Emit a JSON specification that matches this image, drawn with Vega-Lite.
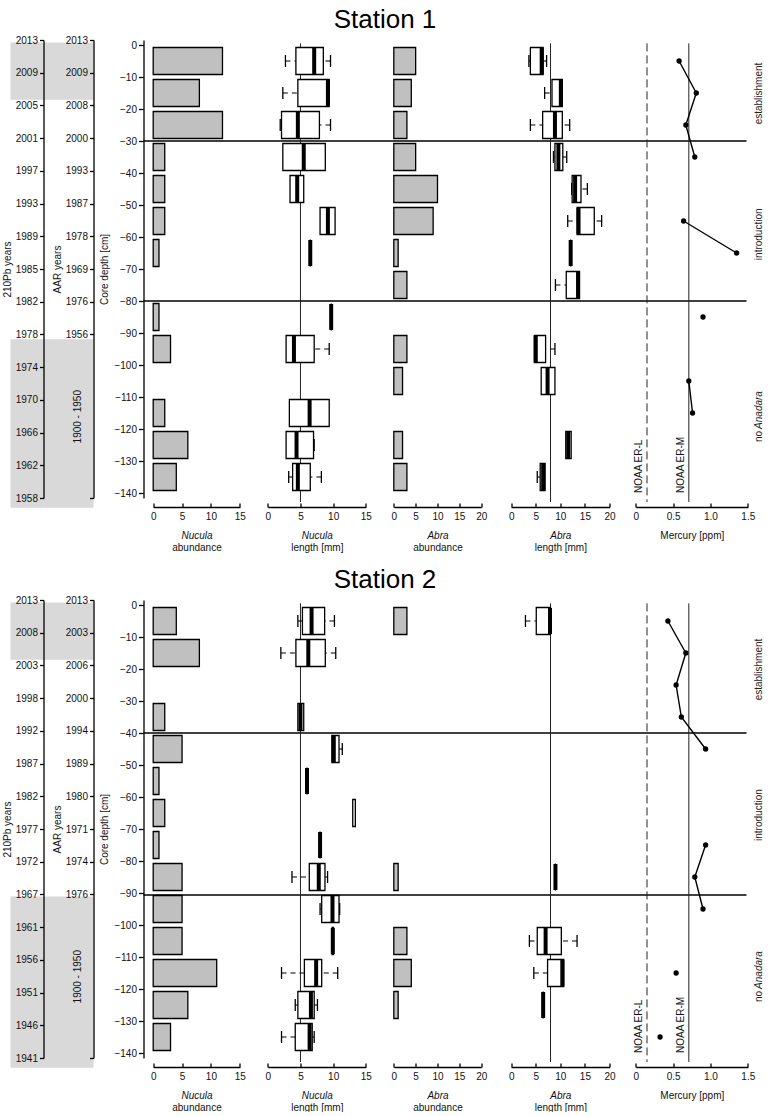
{
  "$schema": "https://vega.github.io/schema/vega-lite/v6.json",
  "padding": {"left": 1.5, "top": 6, "right": 0, "bottom": 0},
  "config": {
    "font": "Liberation Sans",
    "view": {"stroke": null},
    "axis": {
      "labelFont": "Liberation Sans", "labelFontSize": 10, "labelColor": "#111",
      "titleFont": "Liberation Sans", "titleFontSize": 10, "titleFontWeight": "normal", "titleColor": "#111",
      "domainColor": "black", "domainWidth": 1.3, "tickColor": "black", "tickWidth": 1.3,
      "grid": false, "labelFlush": false, "labelOverlap": false, "labelBound": false
    },
    "title": {"font": "Liberation Sans", "fontSize": 26, "fontWeight": "normal", "color": "black", "anchor": "middle", "frame": "group", "offset": 7, "dx": -60}
  },
  "datasets": {
    "samples": [
      {"st":1,"taxon":"Nucula","d":-5,"n":12,"min":2.7,"q1":4.3,"med":7.1,"q3":8.5,"max":9.6},
      {"st":1,"taxon":"Nucula","d":-15,"n":8,"min":2.3,"q1":4.6,"med":9.2,"q3":9.4,"max":9.4},
      {"st":1,"taxon":"Nucula","d":-25,"n":12,"min":1.9,"q1":2.1,"med":4.6,"q3":7.9,"max":9.6},
      {"st":1,"taxon":"Nucula","d":-35,"n":2,"min":2.3,"q1":2.3,"med":5.5,"q3":8.8,"max":8.8},
      {"st":1,"taxon":"Nucula","d":-45,"n":2,"min":3.4,"q1":3.4,"med":4.5,"q3":5.5,"max":5.5},
      {"st":1,"taxon":"Nucula","d":-55,"n":2,"min":8.0,"q1":8.0,"med":9.2,"q3":10.3,"max":10.3},
      {"st":1,"taxon":"Nucula","d":-65,"n":1,"min":6.5,"q1":6.5,"med":6.5,"q3":6.5,"max":6.5},
      {"st":1,"taxon":"Nucula","d":-85,"n":1,"min":9.7,"q1":9.7,"med":9.7,"q3":9.7,"max":9.7},
      {"st":1,"taxon":"Nucula","d":-95,"n":3,"min":2.8,"q1":2.8,"med":4.0,"q3":7.1,"max":9.4},
      {"st":1,"taxon":"Nucula","d":-115,"n":2,"min":3.3,"q1":3.3,"med":6.4,"q3":9.4,"max":9.4},
      {"st":1,"taxon":"Nucula","d":-125,"n":6,"min":2.8,"q1":2.8,"med":4.4,"q3":7.0,"max":7.1},
      {"st":1,"taxon":"Nucula","d":-135,"n":4,"min":3.2,"q1":3.8,"med":4.6,"q3":6.5,"max":8.2},
      {"st":1,"taxon":"Abra","d":-5,"n":5,"min":3.6,"q1":3.9,"med":6.2,"q3":6.5,"max":7.2},
      {"st":1,"taxon":"Abra","d":-15,"n":4,"min":6.8,"q1":8.3,"med":10.1,"q3":10.4,"max":10.4},
      {"st":1,"taxon":"Abra","d":-25,"n":3,"min":3.9,"q1":6.4,"med":8.9,"q3":10.4,"max":11.9},
      {"st":1,"taxon":"Abra","d":-35,"n":5,"min":8.6,"q1":8.9,"med":9.6,"q3":10.5,"max":11.3},
      {"st":1,"taxon":"Abra","d":-45,"n":10,"min":12.3,"q1":12.4,"med":13.0,"q3":14.2,"max":15.5},
      {"st":1,"taxon":"Abra","d":-55,"n":9,"min":11.5,"q1":13.4,"med":13.7,"q3":16.9,"max":18.4},
      {"st":1,"taxon":"Abra","d":-65,"n":1,"min":12.1,"q1":12.1,"med":12.1,"q3":12.1,"max":12.1},
      {"st":1,"taxon":"Abra","d":-75,"n":3,"min":9.0,"q1":11.2,"med":13.6,"q3":13.9,"max":13.9},
      {"st":1,"taxon":"Abra","d":-95,"n":3,"min":4.7,"q1":4.7,"med":5.0,"q3":7.0,"max":8.9},
      {"st":1,"taxon":"Abra","d":-105,"n":2,"min":6.1,"q1":6.1,"med":7.4,"q3":8.9,"max":8.9},
      {"st":1,"taxon":"Abra","d":-125,"n":2,"min":11.1,"q1":11.1,"med":11.6,"q3":12.2,"max":12.2},
      {"st":1,"taxon":"Abra","d":-135,"n":3,"min":5.3,"q1":5.9,"med":6.5,"q3":6.9,"max":6.9},
      {"st":2,"taxon":"Nucula","d":-5,"n":4,"min":4.6,"q1":5.3,"med":6.7,"q3":8.7,"max":10.2},
      {"st":2,"taxon":"Nucula","d":-15,"n":8,"min":2.0,"q1":4.3,"med":6.2,"q3":8.8,"max":10.4},
      {"st":2,"taxon":"Nucula","d":-35,"n":2,"min":4.6,"q1":4.6,"med":5.0,"q3":5.5,"max":5.5},
      {"st":2,"taxon":"Nucula","d":-45,"n":5,"min":9.8,"q1":9.8,"med":10.1,"q3":10.9,"max":11.4},
      {"st":2,"taxon":"Nucula","d":-55,"n":1,"min":6.0,"q1":6.0,"med":6.0,"q3":6.0,"max":6.0},
      {"st":2,"taxon":"Nucula","d":-65,"n":2,"min":13.0,"q1":13.0,"med":null,"q3":13.4,"max":13.4},
      {"st":2,"taxon":"Nucula","d":-75,"n":1,"min":8.0,"q1":8.0,"med":8.0,"q3":8.0,"max":8.0},
      {"st":2,"taxon":"Nucula","d":-85,"n":5,"min":3.7,"q1":6.35,"med":7.8,"q3":8.75,"max":9.15},
      {"st":2,"taxon":"Nucula","d":-95,"n":5,"min":8.0,"q1":8.25,"med":9.9,"q3":10.9,"max":11.0},
      {"st":2,"taxon":"Nucula","d":-105,"n":5,"min":9.85,"q1":9.85,"med":9.95,"q3":10.05,"max":10.05},
      {"st":2,"taxon":"Nucula","d":-115,"n":11,"min":2.1,"q1":5.6,"med":7.4,"q3":8.25,"max":10.7},
      {"st":2,"taxon":"Nucula","d":-125,"n":6,"min":4.2,"q1":4.6,"med":6.6,"q3":7.1,"max":7.6},
      {"st":2,"taxon":"Nucula","d":-135,"n":3,"min":2.1,"q1":4.2,"med":6.4,"q3":6.8,"max":7.1},
      {"st":2,"taxon":"Abra","d":-5,"n":3,"min":2.9,"q1":5.1,"med":7.9,"q3":8.0,"max":8.0},
      {"st":2,"taxon":"Abra","d":-85,"n":1,"min":9.0,"q1":9.0,"med":9.0,"q3":9.0,"max":9.0},
      {"st":2,"taxon":"Abra","d":-105,"n":3,"min":3.7,"q1":5.3,"med":7.0,"q3":10.2,"max":13.4},
      {"st":2,"taxon":"Abra","d":-115,"n":4,"min":4.6,"q1":7.4,"med":10.4,"q3":10.7,"max":10.7},
      {"st":2,"taxon":"Abra","d":-125,"n":1,"min":6.5,"q1":6.5,"med":6.5,"q3":6.5,"max":6.5}
    ],
    "hg": [
      {"st":1,"d":-5,"hg":0.58},{"st":1,"d":-15,"hg":0.81},{"st":1,"d":-25,"hg":0.67},{"st":1,"d":-35,"hg":0.79},
      {"st":1,"d":-45,"hg":null},{"st":1,"d":-55,"hg":0.64},{"st":1,"d":-65,"hg":1.35},{"st":1,"d":-75,"hg":null},
      {"st":1,"d":-85,"hg":0.9},{"st":1,"d":-95,"hg":null},{"st":1,"d":-105,"hg":0.71},{"st":1,"d":-115,"hg":0.76},
      {"st":1,"d":-125,"hg":null},{"st":1,"d":-135,"hg":null},
      {"st":2,"d":-5,"hg":0.43},{"st":2,"d":-15,"hg":0.67},{"st":2,"d":-25,"hg":0.54},{"st":2,"d":-35,"hg":0.61},
      {"st":2,"d":-45,"hg":0.935},{"st":2,"d":-55,"hg":null},{"st":2,"d":-65,"hg":null},{"st":2,"d":-75,"hg":0.935},
      {"st":2,"d":-85,"hg":0.79},{"st":2,"d":-95,"hg":0.9},{"st":2,"d":-105,"hg":null},{"st":2,"d":-115,"hg":0.54},
      {"st":2,"d":-125,"hg":null},{"st":2,"d":-135,"hg":0.325}
    ],
    "phase": [{"st":1,"depth":-30},{"st":1,"depth":-80},{"st":2,"depth":-40},{"st":2,"depth":-90.6}],
    "shade": [
      {"st":1,"top":-0.8,"bottom":-18.3},{"st":1,"top":-91.5,"bottom":-143},
      {"st":2,"top":-0.8,"bottom":-18.3},{"st":2,"top":-90.6,"bottom":-143}
    ],
    "ref": [
      {"panel":"NL","v":5,"label":"","dashed":false},
      {"panel":"AL","v":8,"label":"","dashed":false},
      {"panel":"HG","v":0.15,"label":"NOAA ER-L","dashed":true},
      {"panel":"HG","v":0.71,"label":"NOAA ER-M","dashed":false}
    ]
  },
  "columns": 2,
  "bounds": "flush",
  "spacing": {"row": 102, "column": 50},
  "concat": [
    {
      "width": 83, "height": 458,
      "data": {"name": "shade"},
      "transform": [{"filter": "datum.st == 1"}],
      "resolve": {"axis": {"y": "independent"}},
      "layer": [
        {"mark": {"type": "rect", "color": "#d9d9d9", "opacity": 1},
         "encoding": {
           "x": {"datum": 0, "type": "quantitative", "scale": {"domain": [0, 1], "nice": false, "zero": false}, "axis": null},
           "x2": {"datum": 1},
           "y": {"field": "top", "type": "quantitative", "scale": {"domain": [-140, 0], "nice": false, "zero": false},
           "axis": {"orient": "left", "offset": -33, "zindex": 1, "values": [0,-10,-20,-30,-40,-50,-60,-70,-80,-90,-100,-110,-120,-130,-140],
             "labelExpr": "['2013','2009','2005','2001','1997','1993','1989','1985','1982','1978','1974','1970','1966','1962','1958'][round(-datum.value/10)]",
             "tickSize": 4, "labelPadding": 2, "title": "210Pb years", "titlePadding": 3}},
           "y2": {"field": "bottom"}}},
        {"mark": {"type": "rect", "opacity": 0},
         "encoding": {
           "x": {"datum": 0, "type": "quantitative", "scale": {"domain": [0, 1], "nice": false, "zero": false}, "axis": null},
           "x2": {"datum": 1},
           "y": {"field": "top", "type": "quantitative", "scale": {"domain": [-140, 0], "nice": false, "zero": false},
           "axis": {"orient": "left", "offset": -83, "zindex": 1, "values": [0,-10,-20,-30,-40,-50,-60,-70,-80,-90,-140],
             "labelExpr": "['2013','2009','2008','2000','1993','1987','1978','1969','1976','1956','','','','',''][round(-datum.value/10)]",
             "tickSize": 4, "labelPadding": 2, "title": "AAR years", "titlePadding": 3}},
           "y2": {"field": "bottom"}}},
        {"mark": {"type": "rect", "opacity": 0},
         "encoding": {
           "x": {"datum": 0, "type": "quantitative", "scale": {"domain": [0, 1], "nice": false, "zero": false}, "axis": null},
           "x2": {"datum": 1},
           "y": {"field": "top", "type": "quantitative", "scale": {"domain": [-140, 0], "nice": false, "zero": false},
           "axis": {"orient": "left", "offset": -72, "zindex": 1, "values": [-115], "labelExpr": "'1900 - 1950'",
             "labelAngle": 270, "labelAlign": "center", "labelBaseline": "bottom", "labelPadding": 0, "domain": false, "ticks": false, "title": null}},
           "y2": {"field": "bottom"}}}
      ]
    },
    {
      "title": {"text": "Station 1"},
      "width": 603, "height": 458,
      "resolve": {"scale": {"x": "independent"}, "axis": {"y": "independent"}},
      "layer": [
        {"data": {"name": "phase"}, "transform": [{"filter": "datum.st == 1"}],
         "mark": {"type": "rule", "color": "black", "strokeWidth": 1.5},
         "encoding": {"y": {"field": "depth", "type": "quantitative", "scale": {"domain": [-140, 0], "nice": false, "zero": false},
           "axis": {"orient": "left", "title": "Core depth [cm]", "values": [0,-10,-20,-30,-40,-50,-60,-70,-80,-90,-100,-110,-120,-130,-140], "tickSize": 5, "labelPadding": 2, "titlePadding": 4}}}},
        {"data": {"name": "samples"}, "transform": [{"filter": "datum.st == 1 && datum.taxon == 'Nucula'"}],
         "mark": {"type": "bar", "orient": "horizontal", "size": 27, "fill": "#c0c0c0", "stroke": "black", "strokeWidth": 1.3, "opacity": 1},
         "encoding": {
           "x": {"field": "n", "type": "quantitative", "scale": {"domain": [0, 15], "range": [9.7, 96.3], "nice": false, "zero": false},
             "axis": {"orient": "bottom", "offset": 9, "values": [0,5,10,15], "tickSize": -4, "labelPadding": 8, "title": "abundance", "titleY": 40, "titleBaseline": "middle"}},
           "y": {"field": "d", "type": "quantitative", "scale": {"domain": [-140, 0], "nice": false, "zero": false}, "axis": null}}},
        {"data": {"name": "samples"}, "transform": [{"filter": "datum.st == 1 && datum.taxon == 'Nucula'"}],
         "mark": {"type": "point", "opacity": 0},
         "encoding": {"x": {"field": "n", "type": "quantitative", "scale": {"domain": [0, 15], "range": [9.7, 96.3], "nice": false, "zero": false},
           "axis": {"orient": "bottom", "offset": 9, "domain": false, "ticks": false, "labels": false, "title": "Nucula", "titleFontStyle": "italic", "titleY": 28, "titleBaseline": "middle"}},
           "y": {"field": "d", "type": "quantitative", "scale": {"domain": [-140, 0], "nice": false, "zero": false}, "axis": null}}},
        {"data": {"name": "ref"}, "transform": [{"filter": "datum.panel == 'NL'"}],
         "mark": {"type": "rule", "color": "#222", "strokeWidth": 1},
         "encoding": {
           "x": {"field": "v", "type": "quantitative", "scale": {"domain": [0, 15], "range": [124.3, 222.3], "nice": false, "zero": false},
             "axis": {"orient": "bottom", "offset": 9, "domain": false, "ticks": false, "labels": false, "title": "Nucula", "titleFontStyle": "italic", "titleY": 28, "titleBaseline": "middle"}},
           "y": {"datum": 0.5, "type": "quantitative", "scale": {"domain": [-140, 0], "nice": false, "zero": false}, "axis": null},
           "y2": {"datum": -142.8}}},
        {"data": {"name": "samples"}, "transform": [{"filter": "datum.st == 1 && datum.taxon == 'Nucula'"}],
         "encoding": {"y": {"field": "d", "type": "quantitative", "scale": {"domain": [-140, 0], "nice": false, "zero": false}, "axis": null}},
         "layer": [
           {"transform": [{"filter": "datum.min < datum.q1"}], "mark": {"type": "rule", "color": "black", "strokeWidth": 1.1, "strokeDash": [5, 4]},
            "encoding": {"x": {"field": "min", "type": "quantitative", "scale": {"domain": [0, 15], "range": [124.3, 222.3], "nice": false, "zero": false},
              "axis": {"orient": "bottom", "offset": 9, "values": [0,5,10,15], "tickSize": -4, "labelPadding": 8, "title": "length [mm]", "titleY": 40, "titleBaseline": "middle"}}, "x2": {"field": "q1"}}},
           {"transform": [{"filter": "datum.max > datum.q3"}], "mark": {"type": "rule", "color": "black", "strokeWidth": 1.1, "strokeDash": [5, 4]},
            "encoding": {"x": {"field": "max", "type": "quantitative", "scale": {"domain": [0, 15], "range": [124.3, 222.3], "nice": false, "zero": false},
              "axis": {"orient": "bottom", "offset": 9, "values": [0,5,10,15], "tickSize": -4, "labelPadding": 8, "title": "length [mm]", "titleY": 40, "titleBaseline": "middle"}}, "x2": {"field": "q3"}}},
           {"transform": [{"filter": "datum.min < datum.q1"}], "mark": {"type": "tick", "orient": "vertical", "size": 12, "thickness": 1.3, "color": "black", "opacity": 1},
            "encoding": {"x": {"field": "min", "type": "quantitative", "scale": {"domain": [0, 15], "range": [124.3, 222.3], "nice": false, "zero": false},
              "axis": {"orient": "bottom", "offset": 9, "values": [0,5,10,15], "tickSize": -4, "labelPadding": 8, "title": "length [mm]", "titleY": 40, "titleBaseline": "middle"}}}},
           {"transform": [{"filter": "datum.max > datum.q3"}], "mark": {"type": "tick", "orient": "vertical", "size": 12, "thickness": 1.3, "color": "black", "opacity": 1},
            "encoding": {"x": {"field": "max", "type": "quantitative", "scale": {"domain": [0, 15], "range": [124.3, 222.3], "nice": false, "zero": false},
              "axis": {"orient": "bottom", "offset": 9, "values": [0,5,10,15], "tickSize": -4, "labelPadding": 8, "title": "length [mm]", "titleY": 40, "titleBaseline": "middle"}}}},
           {"mark": {"type": "bar", "orient": "horizontal", "size": 27, "fill": "white", "stroke": "black", "strokeWidth": 1.3, "opacity": 1},
            "encoding": {"x": {"field": "q1", "type": "quantitative", "scale": {"domain": [0, 15], "range": [124.3, 222.3], "nice": false, "zero": false},
              "axis": {"orient": "bottom", "offset": 9, "values": [0,5,10,15], "tickSize": -4, "labelPadding": 8, "title": "length [mm]", "titleY": 40, "titleBaseline": "middle"}}, "x2": {"field": "q3"}}},
           {"transform": [{"filter": "isValid(datum.med)"}], "mark": {"type": "tick", "orient": "vertical", "size": 26, "thickness": 4, "color": "black", "opacity": 1},
            "encoding": {"x": {"field": "med", "type": "quantitative", "scale": {"domain": [0, 15], "range": [124.3, 222.3], "nice": false, "zero": false},
              "axis": {"orient": "bottom", "offset": 9, "values": [0,5,10,15], "tickSize": -4, "labelPadding": 8, "title": "length [mm]", "titleY": 40, "titleBaseline": "middle"}}}}
         ]},
        {"data": {"name": "samples"}, "transform": [{"filter": "datum.st == 1 && datum.taxon == 'Abra'"}],
         "mark": {"type": "bar", "orient": "horizontal", "size": 27, "fill": "#c0c0c0", "stroke": "black", "strokeWidth": 1.3, "opacity": 1},
         "encoding": {
           "x": {"field": "n", "type": "quantitative", "scale": {"domain": [0, 20], "range": [250.3, 337.7], "nice": false, "zero": false},
             "axis": {"orient": "bottom", "offset": 9, "values": [0,5,10,15,20], "tickSize": -4, "labelPadding": 8, "title": "abundance", "titleY": 40, "titleBaseline": "middle"}},
           "y": {"field": "d", "type": "quantitative", "scale": {"domain": [-140, 0], "nice": false, "zero": false}, "axis": null}}},
        {"data": {"name": "samples"}, "transform": [{"filter": "datum.st == 1 && datum.taxon == 'Abra'"}],
         "mark": {"type": "point", "opacity": 0},
         "encoding": {"x": {"field": "n", "type": "quantitative", "scale": {"domain": [0, 20], "range": [250.3, 337.7], "nice": false, "zero": false},
           "axis": {"orient": "bottom", "offset": 9, "domain": false, "ticks": false, "labels": false, "title": "Abra", "titleFontStyle": "italic", "titleY": 28, "titleBaseline": "middle"}},
           "y": {"field": "d", "type": "quantitative", "scale": {"domain": [-140, 0], "nice": false, "zero": false}, "axis": null}}},
        {"data": {"name": "ref"}, "transform": [{"filter": "datum.panel == 'AL'"}],
         "mark": {"type": "rule", "color": "#222", "strokeWidth": 1},
         "encoding": {
           "x": {"field": "v", "type": "quantitative", "scale": {"domain": [0, 20], "range": [367.7, 466], "nice": false, "zero": false},
             "axis": {"orient": "bottom", "offset": 9, "domain": false, "ticks": false, "labels": false, "title": "Abra", "titleFontStyle": "italic", "titleY": 28, "titleBaseline": "middle"}},
           "y": {"datum": 0.5, "type": "quantitative", "scale": {"domain": [-140, 0], "nice": false, "zero": false}, "axis": null},
           "y2": {"datum": -142.8}}},
        {"data": {"name": "samples"}, "transform": [{"filter": "datum.st == 1 && datum.taxon == 'Abra'"}],
         "encoding": {"y": {"field": "d", "type": "quantitative", "scale": {"domain": [-140, 0], "nice": false, "zero": false}, "axis": null}},
         "layer": [
           {"transform": [{"filter": "datum.min < datum.q1"}], "mark": {"type": "rule", "color": "black", "strokeWidth": 1.1, "strokeDash": [5, 4]},
            "encoding": {"x": {"field": "min", "type": "quantitative", "scale": {"domain": [0, 20], "range": [367.7, 466], "nice": false, "zero": false},
              "axis": {"orient": "bottom", "offset": 9, "values": [0,5,10,15,20], "tickSize": -4, "labelPadding": 8, "title": "length [mm]", "titleY": 40, "titleBaseline": "middle"}}, "x2": {"field": "q1"}}},
           {"transform": [{"filter": "datum.max > datum.q3"}], "mark": {"type": "rule", "color": "black", "strokeWidth": 1.1, "strokeDash": [5, 4]},
            "encoding": {"x": {"field": "max", "type": "quantitative", "scale": {"domain": [0, 20], "range": [367.7, 466], "nice": false, "zero": false},
              "axis": {"orient": "bottom", "offset": 9, "values": [0,5,10,15,20], "tickSize": -4, "labelPadding": 8, "title": "length [mm]", "titleY": 40, "titleBaseline": "middle"}}, "x2": {"field": "q3"}}},
           {"transform": [{"filter": "datum.min < datum.q1"}], "mark": {"type": "tick", "orient": "vertical", "size": 12, "thickness": 1.3, "color": "black", "opacity": 1},
            "encoding": {"x": {"field": "min", "type": "quantitative", "scale": {"domain": [0, 20], "range": [367.7, 466], "nice": false, "zero": false},
              "axis": {"orient": "bottom", "offset": 9, "values": [0,5,10,15,20], "tickSize": -4, "labelPadding": 8, "title": "length [mm]", "titleY": 40, "titleBaseline": "middle"}}}},
           {"transform": [{"filter": "datum.max > datum.q3"}], "mark": {"type": "tick", "orient": "vertical", "size": 12, "thickness": 1.3, "color": "black", "opacity": 1},
            "encoding": {"x": {"field": "max", "type": "quantitative", "scale": {"domain": [0, 20], "range": [367.7, 466], "nice": false, "zero": false},
              "axis": {"orient": "bottom", "offset": 9, "values": [0,5,10,15,20], "tickSize": -4, "labelPadding": 8, "title": "length [mm]", "titleY": 40, "titleBaseline": "middle"}}}},
           {"mark": {"type": "bar", "orient": "horizontal", "size": 27, "fill": "white", "stroke": "black", "strokeWidth": 1.3, "opacity": 1},
            "encoding": {"x": {"field": "q1", "type": "quantitative", "scale": {"domain": [0, 20], "range": [367.7, 466], "nice": false, "zero": false},
              "axis": {"orient": "bottom", "offset": 9, "values": [0,5,10,15,20], "tickSize": -4, "labelPadding": 8, "title": "length [mm]", "titleY": 40, "titleBaseline": "middle"}}, "x2": {"field": "q3"}}},
           {"transform": [{"filter": "isValid(datum.med)"}], "mark": {"type": "tick", "orient": "vertical", "size": 26, "thickness": 4, "color": "black", "opacity": 1},
            "encoding": {"x": {"field": "med", "type": "quantitative", "scale": {"domain": [0, 20], "range": [367.7, 466], "nice": false, "zero": false},
              "axis": {"orient": "bottom", "offset": 9, "values": [0,5,10,15,20], "tickSize": -4, "labelPadding": 8, "title": "length [mm]", "titleY": 40, "titleBaseline": "middle"}}}}
         ]},
        {"data": {"name": "ref"}, "transform": [{"filter": "datum.panel == 'HG' && datum.dashed"}],
         "mark": {"type": "rule", "color": "#222", "strokeWidth": 1, "strokeDash": [8, 4]},
         "encoding": {
           "x": {"field": "v", "type": "quantitative", "scale": {"domain": [0, 1.5], "range": [492.3, 604.3], "nice": false, "zero": false}, "axis": null},
           "y": {"datum": 0.5, "type": "quantitative", "scale": {"domain": [-140, 0], "nice": false, "zero": false}, "axis": null},
           "y2": {"datum": -142.8}}},
        {"data": {"name": "ref"}, "transform": [{"filter": "datum.panel == 'HG' && !datum.dashed"}],
         "mark": {"type": "rule", "color": "#222", "strokeWidth": 1},
         "encoding": {
           "x": {"field": "v", "type": "quantitative", "scale": {"domain": [0, 1.5], "range": [492.3, 604.3], "nice": false, "zero": false}, "axis": null},
           "y": {"datum": 0.5, "type": "quantitative", "scale": {"domain": [-140, 0], "nice": false, "zero": false}, "axis": null},
           "y2": {"datum": -142.8}}},
        {"data": {"name": "ref"}, "transform": [{"filter": "datum.panel == 'HG'"}],
         "mark": {"type": "text", "angle": 270, "align": "left", "baseline": "bottom", "dy": -3, "fontSize": 10, "color": "#111"},
         "encoding": {
           "x": {"field": "v", "type": "quantitative", "scale": {"domain": [0, 1.5], "range": [492.3, 604.3], "nice": false, "zero": false}, "axis": null},
           "y": {"datum": -140, "type": "quantitative", "scale": {"domain": [-140, 0], "nice": false, "zero": false}, "axis": null},
           "text": {"field": "label"}}},
        {"data": {"name": "hg"}, "transform": [{"filter": "datum.st == 1"}],
         "layer": [
           {"mark": {"type": "line", "color": "black", "strokeWidth": 1.4, "invalid": "break-paths-show-domains"},
            "encoding": {
              "x": {"field": "hg", "type": "quantitative", "scale": {"domain": [0, 1.5], "range": [492.3, 604.3], "nice": false, "zero": false},
                "axis": {"orient": "bottom", "offset": 9, "values": [0,0.5,1,1.5], "labelExpr": "datum.value == 0 ? '0' : format(datum.value, '.1f')", "tickSize": -4, "labelPadding": 8, "title": "Mercury [ppm]", "titleY": 28, "titleBaseline": "middle"}},
              "y": {"field": "d", "type": "quantitative", "scale": {"domain": [-140, 0], "nice": false, "zero": false},
                "axis": {"orient": "right", "values": [-15, -59, -113.9, -122.2], "domain": false, "ticks": false, "labelPadding": 7,
                  "labelAngle": 270, "labelAlign": "center", "labelBaseline": "top", "labelColor": "#222", "title": null,
                  "labelExpr": "datum.value > -40 ? 'establishment' : datum.value > -100 ? 'introduction' : datum.value > -118 ? 'Anadara' : 'no'",
                  "labelFontStyle": {"condition": {"test": "datum.value < -100 && datum.value > -118", "value": "italic"}, "value": "normal"}}},
              "order": {"field": "d", "type": "quantitative", "sort": "descending"}}},
           {"transform": [{"filter": "isValid(datum.hg)"}],
            "mark": {"type": "point", "filled": true, "size": 28, "color": "black", "opacity": 1},
            "encoding": {
              "x": {"field": "hg", "type": "quantitative", "scale": {"domain": [0, 1.5], "range": [492.3, 604.3], "nice": false, "zero": false},
                "axis": {"orient": "bottom", "offset": 9, "values": [0,0.5,1,1.5], "labelExpr": "datum.value == 0 ? '0' : format(datum.value, '.1f')", "tickSize": -4, "labelPadding": 8, "title": "Mercury [ppm]", "titleY": 28, "titleBaseline": "middle"}},
              "y": {"field": "d", "type": "quantitative", "scale": {"domain": [-140, 0], "nice": false, "zero": false},
                "axis": {"orient": "right", "values": [-15, -59, -113.9, -122.2], "domain": false, "ticks": false, "labelPadding": 7,
                  "labelAngle": 270, "labelAlign": "center", "labelBaseline": "top", "labelColor": "#222", "title": null,
                  "labelExpr": "datum.value > -40 ? 'establishment' : datum.value > -100 ? 'introduction' : datum.value > -118 ? 'Anadara' : 'no'",
                  "labelFontStyle": {"condition": {"test": "datum.value < -100 && datum.value > -118", "value": "italic"}, "value": "normal"}}}}}
         ]}
      ]
    },
    {
      "width": 83, "height": 458,
      "data": {"name": "shade"},
      "transform": [{"filter": "datum.st == 2"}],
      "resolve": {"axis": {"y": "independent"}},
      "layer": [
        {"mark": {"type": "rect", "color": "#d9d9d9", "opacity": 1},
         "encoding": {
           "x": {"datum": 0, "type": "quantitative", "scale": {"domain": [0, 1], "nice": false, "zero": false}, "axis": null},
           "x2": {"datum": 1},
           "y": {"field": "top", "type": "quantitative", "scale": {"domain": [-140, 0], "nice": false, "zero": false},
           "axis": {"orient": "left", "offset": -33, "zindex": 1, "values": [0,-10,-20,-30,-40,-50,-60,-70,-80,-90,-100,-110,-120,-130,-140],
             "labelExpr": "['2013','2008','2003','1998','1992','1987','1982','1977','1972','1967','1961','1956','1951','1946','1941'][round(-datum.value/10)]",
             "tickSize": 4, "labelPadding": 2, "title": "210Pb years", "titlePadding": 3}},
           "y2": {"field": "bottom"}}},
        {"mark": {"type": "rect", "opacity": 0},
         "encoding": {
           "x": {"datum": 0, "type": "quantitative", "scale": {"domain": [0, 1], "nice": false, "zero": false}, "axis": null},
           "x2": {"datum": 1},
           "y": {"field": "top", "type": "quantitative", "scale": {"domain": [-140, 0], "nice": false, "zero": false},
           "axis": {"orient": "left", "offset": -83, "zindex": 1, "values": [0,-10,-20,-30,-40,-50,-60,-70,-80,-90,-140],
             "labelExpr": "['2013','2003','2006','2000','1994','1989','1980','1971','1974','1976','','','','',''][round(-datum.value/10)]",
             "tickSize": 4, "labelPadding": 2, "title": "AAR years", "titlePadding": 3}},
           "y2": {"field": "bottom"}}},
        {"mark": {"type": "rect", "opacity": 0},
         "encoding": {
           "x": {"datum": 0, "type": "quantitative", "scale": {"domain": [0, 1], "nice": false, "zero": false}, "axis": null},
           "x2": {"datum": 1},
           "y": {"field": "top", "type": "quantitative", "scale": {"domain": [-140, 0], "nice": false, "zero": false},
           "axis": {"orient": "left", "offset": -72, "zindex": 1, "values": [-115], "labelExpr": "'1900 - 1950'",
             "labelAngle": 270, "labelAlign": "center", "labelBaseline": "bottom", "labelPadding": 0, "domain": false, "ticks": false, "title": null}},
           "y2": {"field": "bottom"}}}
      ]
    },
    {
      "title": {"text": "Station 2"},
      "width": 603, "height": 458,
      "resolve": {"scale": {"x": "independent"}, "axis": {"y": "independent"}},
      "layer": [
        {"data": {"name": "phase"}, "transform": [{"filter": "datum.st == 2"}],
         "mark": {"type": "rule", "color": "black", "strokeWidth": 1.5},
         "encoding": {"y": {"field": "depth", "type": "quantitative", "scale": {"domain": [-140, 0], "nice": false, "zero": false},
           "axis": {"orient": "left", "title": "Core depth [cm]", "values": [0,-10,-20,-30,-40,-50,-60,-70,-80,-90,-100,-110,-120,-130,-140], "tickSize": 5, "labelPadding": 2, "titlePadding": 4}}}},
        {"data": {"name": "samples"}, "transform": [{"filter": "datum.st == 2 && datum.taxon == 'Nucula'"}],
         "mark": {"type": "bar", "orient": "horizontal", "size": 27, "fill": "#c0c0c0", "stroke": "black", "strokeWidth": 1.3, "opacity": 1},
         "encoding": {
           "x": {"field": "n", "type": "quantitative", "scale": {"domain": [0, 15], "range": [9.7, 96.3], "nice": false, "zero": false},
             "axis": {"orient": "bottom", "offset": 9, "values": [0,5,10,15], "tickSize": -4, "labelPadding": 8, "title": "abundance", "titleY": 40, "titleBaseline": "middle"}},
           "y": {"field": "d", "type": "quantitative", "scale": {"domain": [-140, 0], "nice": false, "zero": false}, "axis": null}}},
        {"data": {"name": "samples"}, "transform": [{"filter": "datum.st == 2 && datum.taxon == 'Nucula'"}],
         "mark": {"type": "point", "opacity": 0},
         "encoding": {"x": {"field": "n", "type": "quantitative", "scale": {"domain": [0, 15], "range": [9.7, 96.3], "nice": false, "zero": false},
           "axis": {"orient": "bottom", "offset": 9, "domain": false, "ticks": false, "labels": false, "title": "Nucula", "titleFontStyle": "italic", "titleY": 28, "titleBaseline": "middle"}},
           "y": {"field": "d", "type": "quantitative", "scale": {"domain": [-140, 0], "nice": false, "zero": false}, "axis": null}}},
        {"data": {"name": "ref"}, "transform": [{"filter": "datum.panel == 'NL'"}],
         "mark": {"type": "rule", "color": "#222", "strokeWidth": 1},
         "encoding": {
           "x": {"field": "v", "type": "quantitative", "scale": {"domain": [0, 15], "range": [124.3, 222.3], "nice": false, "zero": false},
             "axis": {"orient": "bottom", "offset": 9, "domain": false, "ticks": false, "labels": false, "title": "Nucula", "titleFontStyle": "italic", "titleY": 28, "titleBaseline": "middle"}},
           "y": {"datum": 0.5, "type": "quantitative", "scale": {"domain": [-140, 0], "nice": false, "zero": false}, "axis": null},
           "y2": {"datum": -142.8}}},
        {"data": {"name": "samples"}, "transform": [{"filter": "datum.st == 2 && datum.taxon == 'Nucula'"}],
         "encoding": {"y": {"field": "d", "type": "quantitative", "scale": {"domain": [-140, 0], "nice": false, "zero": false}, "axis": null}},
         "layer": [
           {"transform": [{"filter": "datum.min < datum.q1"}], "mark": {"type": "rule", "color": "black", "strokeWidth": 1.1, "strokeDash": [5, 4]},
            "encoding": {"x": {"field": "min", "type": "quantitative", "scale": {"domain": [0, 15], "range": [124.3, 222.3], "nice": false, "zero": false},
              "axis": {"orient": "bottom", "offset": 9, "values": [0,5,10,15], "tickSize": -4, "labelPadding": 8, "title": "length [mm]", "titleY": 40, "titleBaseline": "middle"}}, "x2": {"field": "q1"}}},
           {"transform": [{"filter": "datum.max > datum.q3"}], "mark": {"type": "rule", "color": "black", "strokeWidth": 1.1, "strokeDash": [5, 4]},
            "encoding": {"x": {"field": "max", "type": "quantitative", "scale": {"domain": [0, 15], "range": [124.3, 222.3], "nice": false, "zero": false},
              "axis": {"orient": "bottom", "offset": 9, "values": [0,5,10,15], "tickSize": -4, "labelPadding": 8, "title": "length [mm]", "titleY": 40, "titleBaseline": "middle"}}, "x2": {"field": "q3"}}},
           {"transform": [{"filter": "datum.min < datum.q1"}], "mark": {"type": "tick", "orient": "vertical", "size": 12, "thickness": 1.3, "color": "black", "opacity": 1},
            "encoding": {"x": {"field": "min", "type": "quantitative", "scale": {"domain": [0, 15], "range": [124.3, 222.3], "nice": false, "zero": false},
              "axis": {"orient": "bottom", "offset": 9, "values": [0,5,10,15], "tickSize": -4, "labelPadding": 8, "title": "length [mm]", "titleY": 40, "titleBaseline": "middle"}}}},
           {"transform": [{"filter": "datum.max > datum.q3"}], "mark": {"type": "tick", "orient": "vertical", "size": 12, "thickness": 1.3, "color": "black", "opacity": 1},
            "encoding": {"x": {"field": "max", "type": "quantitative", "scale": {"domain": [0, 15], "range": [124.3, 222.3], "nice": false, "zero": false},
              "axis": {"orient": "bottom", "offset": 9, "values": [0,5,10,15], "tickSize": -4, "labelPadding": 8, "title": "length [mm]", "titleY": 40, "titleBaseline": "middle"}}}},
           {"mark": {"type": "bar", "orient": "horizontal", "size": 27, "fill": "white", "stroke": "black", "strokeWidth": 1.3, "opacity": 1},
            "encoding": {"x": {"field": "q1", "type": "quantitative", "scale": {"domain": [0, 15], "range": [124.3, 222.3], "nice": false, "zero": false},
              "axis": {"orient": "bottom", "offset": 9, "values": [0,5,10,15], "tickSize": -4, "labelPadding": 8, "title": "length [mm]", "titleY": 40, "titleBaseline": "middle"}}, "x2": {"field": "q3"}}},
           {"transform": [{"filter": "isValid(datum.med)"}], "mark": {"type": "tick", "orient": "vertical", "size": 26, "thickness": 4, "color": "black", "opacity": 1},
            "encoding": {"x": {"field": "med", "type": "quantitative", "scale": {"domain": [0, 15], "range": [124.3, 222.3], "nice": false, "zero": false},
              "axis": {"orient": "bottom", "offset": 9, "values": [0,5,10,15], "tickSize": -4, "labelPadding": 8, "title": "length [mm]", "titleY": 40, "titleBaseline": "middle"}}}}
         ]},
        {"data": {"name": "samples"}, "transform": [{"filter": "datum.st == 2 && datum.taxon == 'Abra'"}],
         "mark": {"type": "bar", "orient": "horizontal", "size": 27, "fill": "#c0c0c0", "stroke": "black", "strokeWidth": 1.3, "opacity": 1},
         "encoding": {
           "x": {"field": "n", "type": "quantitative", "scale": {"domain": [0, 20], "range": [250.3, 337.7], "nice": false, "zero": false},
             "axis": {"orient": "bottom", "offset": 9, "values": [0,5,10,15,20], "tickSize": -4, "labelPadding": 8, "title": "abundance", "titleY": 40, "titleBaseline": "middle"}},
           "y": {"field": "d", "type": "quantitative", "scale": {"domain": [-140, 0], "nice": false, "zero": false}, "axis": null}}},
        {"data": {"name": "samples"}, "transform": [{"filter": "datum.st == 2 && datum.taxon == 'Abra'"}],
         "mark": {"type": "point", "opacity": 0},
         "encoding": {"x": {"field": "n", "type": "quantitative", "scale": {"domain": [0, 20], "range": [250.3, 337.7], "nice": false, "zero": false},
           "axis": {"orient": "bottom", "offset": 9, "domain": false, "ticks": false, "labels": false, "title": "Abra", "titleFontStyle": "italic", "titleY": 28, "titleBaseline": "middle"}},
           "y": {"field": "d", "type": "quantitative", "scale": {"domain": [-140, 0], "nice": false, "zero": false}, "axis": null}}},
        {"data": {"name": "ref"}, "transform": [{"filter": "datum.panel == 'AL'"}],
         "mark": {"type": "rule", "color": "#222", "strokeWidth": 1},
         "encoding": {
           "x": {"field": "v", "type": "quantitative", "scale": {"domain": [0, 20], "range": [367.7, 466], "nice": false, "zero": false},
             "axis": {"orient": "bottom", "offset": 9, "domain": false, "ticks": false, "labels": false, "title": "Abra", "titleFontStyle": "italic", "titleY": 28, "titleBaseline": "middle"}},
           "y": {"datum": 0.5, "type": "quantitative", "scale": {"domain": [-140, 0], "nice": false, "zero": false}, "axis": null},
           "y2": {"datum": -142.8}}},
        {"data": {"name": "samples"}, "transform": [{"filter": "datum.st == 2 && datum.taxon == 'Abra'"}],
         "encoding": {"y": {"field": "d", "type": "quantitative", "scale": {"domain": [-140, 0], "nice": false, "zero": false}, "axis": null}},
         "layer": [
           {"transform": [{"filter": "datum.min < datum.q1"}], "mark": {"type": "rule", "color": "black", "strokeWidth": 1.1, "strokeDash": [5, 4]},
            "encoding": {"x": {"field": "min", "type": "quantitative", "scale": {"domain": [0, 20], "range": [367.7, 466], "nice": false, "zero": false},
              "axis": {"orient": "bottom", "offset": 9, "values": [0,5,10,15,20], "tickSize": -4, "labelPadding": 8, "title": "length [mm]", "titleY": 40, "titleBaseline": "middle"}}, "x2": {"field": "q1"}}},
           {"transform": [{"filter": "datum.max > datum.q3"}], "mark": {"type": "rule", "color": "black", "strokeWidth": 1.1, "strokeDash": [5, 4]},
            "encoding": {"x": {"field": "max", "type": "quantitative", "scale": {"domain": [0, 20], "range": [367.7, 466], "nice": false, "zero": false},
              "axis": {"orient": "bottom", "offset": 9, "values": [0,5,10,15,20], "tickSize": -4, "labelPadding": 8, "title": "length [mm]", "titleY": 40, "titleBaseline": "middle"}}, "x2": {"field": "q3"}}},
           {"transform": [{"filter": "datum.min < datum.q1"}], "mark": {"type": "tick", "orient": "vertical", "size": 12, "thickness": 1.3, "color": "black", "opacity": 1},
            "encoding": {"x": {"field": "min", "type": "quantitative", "scale": {"domain": [0, 20], "range": [367.7, 466], "nice": false, "zero": false},
              "axis": {"orient": "bottom", "offset": 9, "values": [0,5,10,15,20], "tickSize": -4, "labelPadding": 8, "title": "length [mm]", "titleY": 40, "titleBaseline": "middle"}}}},
           {"transform": [{"filter": "datum.max > datum.q3"}], "mark": {"type": "tick", "orient": "vertical", "size": 12, "thickness": 1.3, "color": "black", "opacity": 1},
            "encoding": {"x": {"field": "max", "type": "quantitative", "scale": {"domain": [0, 20], "range": [367.7, 466], "nice": false, "zero": false},
              "axis": {"orient": "bottom", "offset": 9, "values": [0,5,10,15,20], "tickSize": -4, "labelPadding": 8, "title": "length [mm]", "titleY": 40, "titleBaseline": "middle"}}}},
           {"mark": {"type": "bar", "orient": "horizontal", "size": 27, "fill": "white", "stroke": "black", "strokeWidth": 1.3, "opacity": 1},
            "encoding": {"x": {"field": "q1", "type": "quantitative", "scale": {"domain": [0, 20], "range": [367.7, 466], "nice": false, "zero": false},
              "axis": {"orient": "bottom", "offset": 9, "values": [0,5,10,15,20], "tickSize": -4, "labelPadding": 8, "title": "length [mm]", "titleY": 40, "titleBaseline": "middle"}}, "x2": {"field": "q3"}}},
           {"transform": [{"filter": "isValid(datum.med)"}], "mark": {"type": "tick", "orient": "vertical", "size": 26, "thickness": 4, "color": "black", "opacity": 1},
            "encoding": {"x": {"field": "med", "type": "quantitative", "scale": {"domain": [0, 20], "range": [367.7, 466], "nice": false, "zero": false},
              "axis": {"orient": "bottom", "offset": 9, "values": [0,5,10,15,20], "tickSize": -4, "labelPadding": 8, "title": "length [mm]", "titleY": 40, "titleBaseline": "middle"}}}}
         ]},
        {"data": {"name": "ref"}, "transform": [{"filter": "datum.panel == 'HG' && datum.dashed"}],
         "mark": {"type": "rule", "color": "#222", "strokeWidth": 1, "strokeDash": [8, 4]},
         "encoding": {
           "x": {"field": "v", "type": "quantitative", "scale": {"domain": [0, 1.5], "range": [492.3, 604.3], "nice": false, "zero": false}, "axis": null},
           "y": {"datum": 0.5, "type": "quantitative", "scale": {"domain": [-140, 0], "nice": false, "zero": false}, "axis": null},
           "y2": {"datum": -142.8}}},
        {"data": {"name": "ref"}, "transform": [{"filter": "datum.panel == 'HG' && !datum.dashed"}],
         "mark": {"type": "rule", "color": "#222", "strokeWidth": 1},
         "encoding": {
           "x": {"field": "v", "type": "quantitative", "scale": {"domain": [0, 1.5], "range": [492.3, 604.3], "nice": false, "zero": false}, "axis": null},
           "y": {"datum": 0.5, "type": "quantitative", "scale": {"domain": [-140, 0], "nice": false, "zero": false}, "axis": null},
           "y2": {"datum": -142.8}}},
        {"data": {"name": "ref"}, "transform": [{"filter": "datum.panel == 'HG'"}],
         "mark": {"type": "text", "angle": 270, "align": "left", "baseline": "bottom", "dy": -3, "fontSize": 10, "color": "#111"},
         "encoding": {
           "x": {"field": "v", "type": "quantitative", "scale": {"domain": [0, 1.5], "range": [492.3, 604.3], "nice": false, "zero": false}, "axis": null},
           "y": {"datum": -140, "type": "quantitative", "scale": {"domain": [-140, 0], "nice": false, "zero": false}, "axis": null},
           "text": {"field": "label"}}},
        {"data": {"name": "hg"}, "transform": [{"filter": "datum.st == 2"}],
         "layer": [
           {"mark": {"type": "line", "color": "black", "strokeWidth": 1.4, "invalid": "break-paths-show-domains"},
            "encoding": {
              "x": {"field": "hg", "type": "quantitative", "scale": {"domain": [0, 1.5], "range": [492.3, 604.3], "nice": false, "zero": false},
                "axis": {"orient": "bottom", "offset": 9, "values": [0,0.5,1,1.5], "labelExpr": "datum.value == 0 ? '0' : format(datum.value, '.1f')", "tickSize": -4, "labelPadding": 8, "title": "Mercury [ppm]", "titleY": 28, "titleBaseline": "middle"}},
              "y": {"field": "d", "type": "quantitative", "scale": {"domain": [-140, 0], "nice": false, "zero": false},
                "axis": {"orient": "right", "values": [-20, -65.5, -113.9, -122.2], "domain": false, "ticks": false, "labelPadding": 7,
                  "labelAngle": 270, "labelAlign": "center", "labelBaseline": "top", "labelColor": "#222", "title": null,
                  "labelExpr": "datum.value > -40 ? 'establishment' : datum.value > -100 ? 'introduction' : datum.value > -118 ? 'Anadara' : 'no'",
                  "labelFontStyle": {"condition": {"test": "datum.value < -100 && datum.value > -118", "value": "italic"}, "value": "normal"}}},
              "order": {"field": "d", "type": "quantitative", "sort": "descending"}}},
           {"transform": [{"filter": "isValid(datum.hg)"}],
            "mark": {"type": "point", "filled": true, "size": 28, "color": "black", "opacity": 1},
            "encoding": {
              "x": {"field": "hg", "type": "quantitative", "scale": {"domain": [0, 1.5], "range": [492.3, 604.3], "nice": false, "zero": false},
                "axis": {"orient": "bottom", "offset": 9, "values": [0,0.5,1,1.5], "labelExpr": "datum.value == 0 ? '0' : format(datum.value, '.1f')", "tickSize": -4, "labelPadding": 8, "title": "Mercury [ppm]", "titleY": 28, "titleBaseline": "middle"}},
              "y": {"field": "d", "type": "quantitative", "scale": {"domain": [-140, 0], "nice": false, "zero": false},
                "axis": {"orient": "right", "values": [-20, -65.5, -113.9, -122.2], "domain": false, "ticks": false, "labelPadding": 7,
                  "labelAngle": 270, "labelAlign": "center", "labelBaseline": "top", "labelColor": "#222", "title": null,
                  "labelExpr": "datum.value > -40 ? 'establishment' : datum.value > -100 ? 'introduction' : datum.value > -118 ? 'Anadara' : 'no'",
                  "labelFontStyle": {"condition": {"test": "datum.value < -100 && datum.value > -118", "value": "italic"}, "value": "normal"}}}}}
         ]}
      ]
    }
  ]
}
